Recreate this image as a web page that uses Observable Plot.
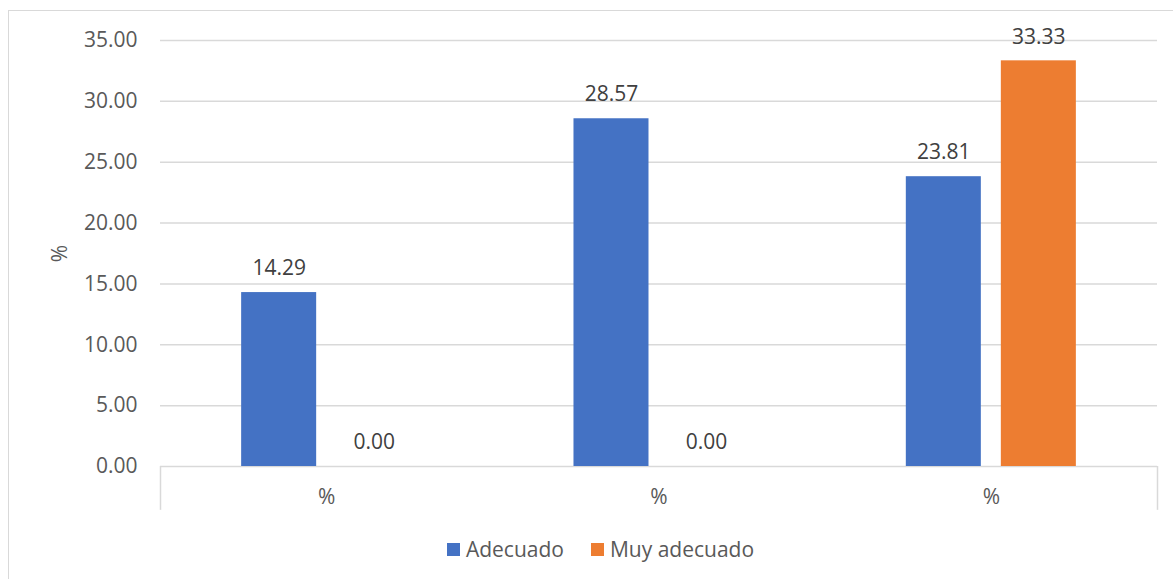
<!DOCTYPE html>
<html>
<head>
<meta charset="utf-8">
<script src="https://cdn.jsdelivr.net/npm/d3@7"></script>
<script src="https://cdn.jsdelivr.net/npm/@observablehq/plot@0.6"></script>
<style>
  html, body { margin: 0; padding: 0; background: #fff; }
  #wrap { position: relative; width: 1173px; height: 579px; overflow: hidden; font-family: "Open Sans", sans-serif; }
  #border { position: absolute; left: 8px; top: 10px; width: 1300px; height: 700px; border-left: 1.5px solid #d9d9d9; border-top: 1.5px solid #d9d9d9; }
  #chart { position: absolute; left: 0; top: 0; }
  #legend { position: absolute; left: 0; top: 535px; width: 1173px; display: flex; justify-content: center; gap: 27px; padding-left: 28px; box-sizing: border-box; font-size: 21px; color: #595959; }
  #legend .item { display: flex; align-items: center; gap: 6px; }
  #legend .sw { width: 13px; height: 13px; display: inline-block; }
</style>
</head>
<body>
<div id="wrap">
  <div id="border"></div>
  <div id="chart"></div>
  <div id="legend"></div>
</div>
<script>
// ---- data ----
const categories = ["%", "%", "%"];
const series = ["Adecuado", "Muy adecuado"];
const adecuado = [14.29, 28.57, 23.81];
const muyAdecuado = [0.00, 0.00, 33.33];
const colors = ["#4472C4", "#ED7D31"];
const yTicks = [0, 5, 10, 15, 20, 25, 30, 35];
const yLabel = "%";

// ---- table ----
const valuesBySeries = [adecuado, muyAdecuado];
const inner = d3.scaleBand().domain(series).range([0, 1]).paddingInner(20 / 95).paddingOuter(0.854);
const rows = [];
categories.forEach((c, gi) => {
  series.forEach((s, si) => {
    const x1 = gi + inner(s);
    rows.push({gi, series: s, value: valuesBySeries[si][gi], x1, x2: x1 + inner.bandwidth(), xc: x1 + inner.bandwidth() / 2});
  });
});
const catCenters = categories.map((c, i) => i + 0.5);
const fmt = d3.format(".2f");
const grid = "#d9d9d9";

const chart = Plot.plot({
  width: 1173,
  height: 530,
  marginLeft: 160,
  marginRight: 16,
  marginTop: 40,
  marginBottom: 64,
  style: {background: "transparent", fontFamily: "Open Sans, sans-serif", fontSize: "21px", overflow: "visible"},
  x: {domain: [0, categories.length]},
  y: {domain: [0, 35]},
  color: {domain: series, range: colors},
  marks: [
    Plot.gridY(yTicks.filter(d => d > 0), {stroke: grid, strokeOpacity: 1, strokeWidth: 1.5}),
    Plot.ruleY([0], {stroke: grid, strokeWidth: 1.5}),
    Plot.ruleX([0, categories.length], {y1: 0, y2: -3.6, stroke: grid, strokeWidth: 1.5, clip: false}),
    Plot.rectY(rows, {x1: "x1", x2: "x2", y1: 0, y2: "value", fill: "series"}),
    Plot.text(rows, {x: "xc", y: "value", text: d => fmt(d.value), dy: -24, fill: "#404040", fontSize: 21}),
    Plot.axisY(yTicks, {tickSize: 0, tickPadding: 23, tickFormat: fmt, fill: "#595959", fontSize: 21,
      label: yLabel, labelAnchor: "center", labelArrow: "none", labelOffset: 108}),
    Plot.axisX(catCenters, {tickSize: 0, tickPadding: 23, tickFormat: (d, i) => categories[i], fill: "#595959", fontSize: 21, label: null})
  ]
});
document.getElementById("chart").appendChild(chart);

// ---- legend ----
const legend = d3.select("#legend");
series.forEach((s, i) => {
  const item = legend.append("div").attr("class", "item");
  item.append("span").attr("class", "sw").style("background", colors[i]);
  item.append("span").text(s);
});
</script>
</body>
</html>
